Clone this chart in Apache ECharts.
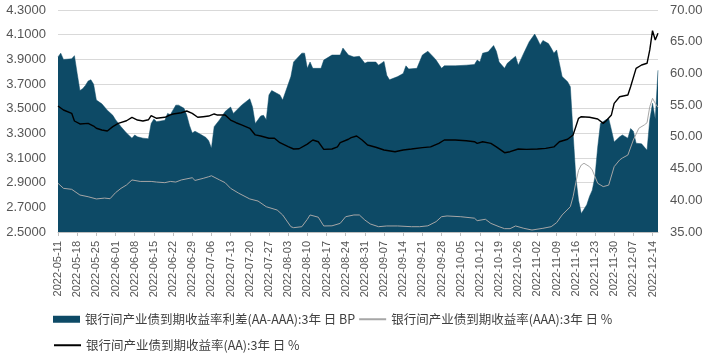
<!DOCTYPE html>
<html>
<head>
<meta charset="utf-8">
<script src="https://cdn.jsdelivr.net/npm/echarts@6/dist/echarts.min.js"></script>
<style>html,body{margin:0;padding:0;background:#fff;}#c{width:707px;height:355px;}</style>
</head>
<body>
<div id="c"></div>
<script>
// ---- data ----
const startDate = '2022-05-11';
const endDate = '2022-12-16';
const leftTicks = { min: 2.5, max: 4.3, step: 0.2 };
const rightTicks = { min: 35, max: 70, step: 5 };

const spreadName = '银行间产业债到期收益率利差(AA-AAA):3年 日 BP';
const aaaName = '银行间产业债到期收益率(AAA):3年 日 %';
const aaName = '银行间产业债到期收益率(AA):3年 日 %';

const spreadDates = ['05-11','05-12','05-13','05-16','05-17','05-18','05-19','05-20','05-21','05-22','05-23','05-24','05-25','05-27','05-29','05-31',
'06-01','06-03','06-05','06-07','06-08','06-09','06-11','06-13','06-14','06-15','06-16','06-19','06-20','06-21','06-23','06-24','06-26','06-27','06-28','06-29','06-30',
'07-02','07-04','07-05','07-06','07-07','07-09','07-11','07-13','07-14','07-17','07-20','07-21','07-22','07-24','07-25','07-26','07-27','07-28','07-31',
'08-01','08-04','08-05','08-08','08-09','08-10','08-11','08-12','08-15','08-16','08-19','08-22','08-23','08-25','08-27','08-29','08-31',
'09-01','09-04','09-05','09-07','09-08','09-09','09-12','09-14','09-15','09-16','09-19','09-21','09-23','09-25','09-26','09-28','09-29',
'10-03','10-07','10-10','10-11','10-12','10-13','10-15','10-17','10-18','10-19','10-21','10-22','10-25','10-26','10-28','10-30',
'11-01','11-02','11-03','11-04','11-06','11-07','11-08','11-09','11-10','11-11','11-13','11-14','11-15','11-16','11-17','11-18','11-20','11-21','11-22','11-23','11-24','11-25','11-27','11-28','11-29','11-30',
'12-02','12-03','12-05','12-06','12-07','12-08','12-10','12-12','12-13','12-14','12-15','12-16'];
const spreadValues = [62.6,63.2,62.2,62.3,62.8,60.0,57.3,57.6,58.1,58.8,59.0,58.3,55.8,55.2,54.2,53.4,
52.7,51.6,50.6,49.8,50.3,50.0,49.8,49.7,52.1,52.8,52.4,52.6,53.7,53.5,55.0,55.0,54.5,53.4,51.8,50.6,50.9,
50.4,49.9,49.4,48.2,51.6,52.7,54.0,54.7,53.7,55.0,56.0,54.7,52.1,53.3,53.4,52.7,56.6,57.3,56.6,
55.8,59.5,61.8,63.2,63.2,60.8,61.8,60.8,60.8,62.1,62.9,62.9,64.0,62.9,62.6,62.7,61.6,
61.8,61.8,61.3,61.9,59.7,59.0,59.5,60.0,61.2,60.7,60.8,62.9,63.5,62.6,62.1,60.8,61.2,
61.2,61.3,61.4,62.1,61.8,63.2,63.4,64.4,63.5,61.8,60.8,61.6,62.7,61.3,63.2,65.0,
66.2,65.4,64.5,65.2,64.7,64.0,63.2,63.7,61.6,59.5,58.7,57.9,50.6,43.7,40.0,37.9,39.3,40.6,41.6,43.7,48.4,52.1,52.7,52.9,51.1,49.2,
50.0,50.3,49.8,51.3,50.9,49.0,48.9,47.9,52.7,55.3,52.8,60.5];

const aaDates = ['05-11','05-13','05-16','05-17','05-19','05-22','05-24','05-25','05-27','05-29','05-31',
'06-02','06-05','06-07','06-09','06-11','06-13','06-14','06-16','06-19','06-21','06-22','06-25','06-27','06-29',
'07-01','07-03','07-05','07-07','07-08','07-11','07-13','07-15','07-17','07-20','07-22','07-24','07-27','07-29','07-31',
'08-03','08-05','08-07','08-10','08-12','08-14','08-16','08-19','08-21','08-22','08-25','08-26','08-28','08-30',
'09-01','09-04','09-07','09-11','09-14','09-17','09-21','09-24','09-27','09-29',
'10-03','10-07','10-10','10-11','10-13','10-16','10-18','10-21','10-23','10-26','10-29',
'11-02','11-05','11-08','11-10','11-13','11-15','11-16','11-17','11-18','11-21','11-24','11-26','11-27','11-29','11-30',
'12-02','12-05','12-06','12-08','12-10','12-12','12-13','12-14','12-15','12-16'];
const aaValues = [3.522,3.489,3.462,3.400,3.376,3.381,3.359,3.341,3.327,3.319,3.354,
3.381,3.402,3.430,3.408,3.400,3.410,3.443,3.422,3.430,3.449,3.457,3.467,3.481,3.462,
3.430,3.435,3.440,3.457,3.449,3.449,3.408,3.386,3.368,3.341,3.287,3.278,3.260,3.260,3.224,
3.192,3.173,3.175,3.213,3.246,3.232,3.170,3.173,3.190,3.224,3.252,3.265,3.278,3.246,
3.205,3.187,3.165,3.151,3.165,3.173,3.184,3.190,3.219,3.246,
3.246,3.240,3.232,3.219,3.232,3.219,3.190,3.143,3.151,3.173,3.170,
3.173,3.178,3.190,3.232,3.252,3.287,3.354,3.422,3.435,3.430,3.416,3.381,3.400,3.449,3.543,
3.597,3.611,3.678,3.827,3.854,3.868,3.976,4.132,4.057,4.111];

const aaaDates = ['05-11','05-13','05-16','05-19','05-22','05-25','05-28','05-30',
'06-01','06-03','06-05','06-07','06-10','06-14','06-16','06-19','06-21','06-23','06-25','06-29','06-30',
'07-03','07-05','07-06','07-09','07-11','07-13','07-16','07-20','07-23','07-26','07-30',
'08-01','08-04','08-05','08-08','08-10','08-11','08-14','08-16','08-19','08-22','08-24','08-27','08-29','08-31',
'09-02','09-05','09-08','09-12','09-17','09-20','09-23','09-26','09-28','09-30',
'10-05','10-10','10-11','10-14','10-16','10-19','10-21','10-23','10-25','10-28','10-31',
'11-04','11-07','11-09','11-11','11-14','11-15','11-16','11-17','11-18','11-19','11-21','11-22','11-24','11-26','11-28','11-30',
'12-02','12-03','12-05','12-07','12-09','12-11','12-12','12-13','12-14','12-15','12-16'];
const aaaValues = [2.895,2.854,2.846,2.800,2.786,2.768,2.775,2.770,
2.819,2.854,2.881,2.922,2.910,2.910,2.905,2.900,2.910,2.905,2.922,2.940,2.918,
2.935,2.948,2.956,2.922,2.900,2.854,2.814,2.768,2.751,2.705,2.678,
2.638,2.543,2.535,2.543,2.603,2.638,2.620,2.549,2.550,2.570,2.624,2.638,2.638,2.597,
2.565,2.543,2.549,2.549,2.543,2.543,2.550,2.584,2.624,2.630,
2.624,2.612,2.592,2.603,2.570,2.543,2.527,2.527,2.549,2.530,2.516,
2.530,2.543,2.576,2.638,2.705,2.786,2.900,3.000,3.043,3.057,3.030,3.003,2.895,2.868,2.880,3.030,
3.084,3.100,3.124,3.246,3.341,3.368,3.386,3.516,3.584,3.543,3.510];

// ---- build ----
function buildCalendar(s, e) {
  const out = [];
  const d = new Date(s + 'T00:00:00Z');
  const end = new Date(e + 'T00:00:00Z');
  while (d <= end) {
    out.push(d.toISOString().slice(0, 10));
    d.setUTCDate(d.getUTCDate() + 1);
  }
  return out;
}
const categories = buildCalendar(startDate, endDate);
const pairs = (ds, vs) => ds.map((d, i) => ['2022-' + d, vs[i]]);

const AREA = '#0d4a66';
const labelColor = '#555555';
const latin = "'Liberation Sans', Arial, sans-serif";
const cjk = "'Noto Sans CJK SC', sans-serif";
const legendText = { fontFamily: cjk, fontSize: 12.5, color: '#404040' };

const chart = echarts.init(document.getElementById('c'), null, { renderer: 'canvas' });
chart.setOption({
  animation: false,
  backgroundColor: '#ffffff',
  grid: { left: 58, right: 49, top: 10, bottom: 123, containLabel: false },
  legend: [
    {
      left: 53, top: 313, padding: 0, itemWidth: 27, itemHeight: 7, itemGap: 3,
      textStyle: legendText,
      data: [ { name: spreadName, icon: 'rect' }, { name: aaaName, itemStyle: { opacity: 0 } } ]
    },
    {
      left: 53, top: 339, padding: 0, itemWidth: 27, itemHeight: 7, itemGap: 3,
      textStyle: legendText,
      data: [ { name: aaName, itemStyle: { opacity: 0 } } ]
    }
  ],
  xAxis: {
    type: 'category',
    data: categories,
    boundaryGap: false,
    axisLine: { show: true, lineStyle: { color: '#bfbfbf' } },
    axisTick: { show: true, interval: 6, length: 4, lineStyle: { color: '#bfbfbf' } },
    axisLabel: { interval: 6, rotate: 90, margin: 9, fontSize: 11, color: labelColor, fontFamily: latin },
    splitLine: { show: false }
  },
  yAxis: [
    {
      type: 'value', position: 'left',
      min: leftTicks.min, max: leftTicks.max, interval: leftTicks.step,
      axisLine: { show: false }, axisTick: { show: false },
      axisLabel: { fontSize: 13, color: labelColor, fontFamily: latin, margin: 12, formatter: v => v.toFixed(4) },
      splitLine: { show: true, lineStyle: { color: '#d9d9d9', width: 1 } }
    },
    {
      type: 'value', position: 'right',
      min: rightTicks.min, max: rightTicks.max, interval: rightTicks.step,
      axisLine: { show: false }, axisTick: { show: false },
      axisLabel: { fontSize: 13, color: labelColor, fontFamily: latin, margin: 12, formatter: v => v.toFixed(2) },
      splitLine: { show: false }
    }
  ],
  series: [
    {
      name: spreadName, type: 'line', yAxisIndex: 1,
      data: pairs(spreadDates, spreadValues),
      symbol: 'none', showSymbol: false,
      lineStyle: { width: 0.5, color: AREA },
      itemStyle: { color: AREA },
      areaStyle: { color: AREA, opacity: 1, origin: 'start' }
    },
    {
      name: aaaName, type: 'line', yAxisIndex: 0,
      data: pairs(aaaDates, aaaValues),
      symbol: 'none', showSymbol: false,
      lineStyle: { width: 1, color: '#a6a6a6' },
      itemStyle: { color: '#a6a6a6' }
    },
    {
      name: aaName, type: 'line', yAxisIndex: 0,
      data: pairs(aaDates, aaValues),
      symbol: 'none', showSymbol: false,
      lineStyle: { width: 1.4, color: '#000000' },
      itemStyle: { color: '#000000' }
    }
  ]
});
</script>
</body>
</html>
